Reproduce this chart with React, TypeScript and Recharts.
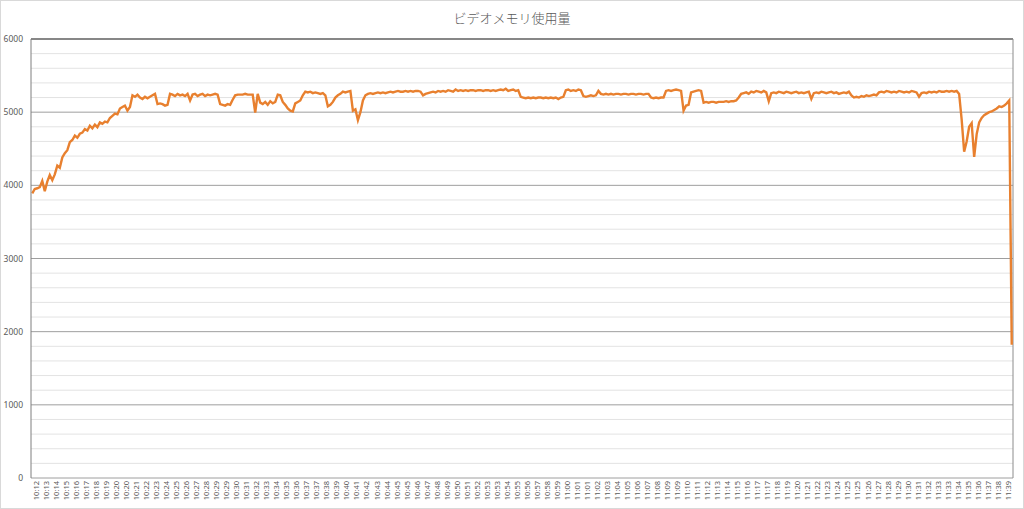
import React from "react";
import { LineChart, Line, XAxis, YAxis, CartesianGrid, ReferenceLine } from "recharts";

const title = "ビデオメモリ使用量";

const times = [
  "10:12","10:13","10:14","10:15","10:16","10:17","10:18","10:19","10:20","10:20",
  "10:21","10:22","10:23","10:24","10:25","10:26","10:27","10:28","10:29","10:29",
  "10:30","10:31","10:32","10:33","10:34","10:35","10:36","10:37","10:37","10:38",
  "10:39","10:40","10:41","10:42","10:43","10:44","10:45","10:45","10:46","10:47",
  "10:48","10:49","10:50","10:51","10:52","10:53","10:53","10:54","10:55","10:56",
  "10:57","10:58","10:59","11:00","11:01","11:01","11:02","11:03","11:04","11:05",
  "11:06","11:07","11:08","11:09","11:09","11:10","11:11","11:12","11:13","11:14",
  "11:15","11:16","11:17","11:17","11:18","11:19","11:20","11:21","11:22","11:23",
  "11:24","11:25","11:25","11:26","11:27","11:28","11:29","11:30","11:31","11:32",
  "11:33","11:33","11:34","11:35","11:36","11:37","11:38","11:39",
];

// four samples per time label
const memoryA = [
  3890, 3950, 3960, 3975, 4060, 3920, 4050, 4140, 4070, 4150, 4270, 4240,
  4380, 4440, 4480, 4590, 4620, 4680, 4650, 4705, 4720, 4770, 4750, 4815,
  4780, 4830, 4795, 4860, 4840, 4870, 4860, 4920, 4950, 4980, 4970, 5050,
  5070, 5090, 5020, 5070, 5230, 5210, 5240, 5200, 5180, 5210, 5190, 5210,
  5230, 5250, 5110, 5120, 5110, 5090, 5100, 5250, 5240, 5220, 5250, 5230,
  5240, 5220, 5250, 5160, 5240, 5250, 5220, 5240, 5250, 5220, 5240, 5230,
  5240, 5250, 5240, 5110, 5100, 5090, 5110, 5100, 5170, 5230, 5240, 5240,
  5240, 5250, 5240, 5240, 5240, 4995, 5250, 5130, 5110, 5140, 5100, 5150,
  5120, 5140, 5240, 5230,
];
const memoryB = [
  5140, 5100, 5050, 5020, 5010, 5120, 5140, 5160, 5230, 5280, 5270, 5280,
  5260, 5270, 5260, 5250, 5260, 5230, 5080, 5100, 5140, 5200, 5230, 5250,
  5280, 5270, 5280, 5290, 5020, 5040, 4890, 5000, 5160, 5230, 5250, 5260,
  5250, 5260, 5270, 5260, 5270, 5260, 5270, 5280, 5270, 5280, 5290, 5280,
  5280, 5290, 5280, 5290, 5280, 5290, 5290, 5280, 5230, 5250, 5260, 5270,
  5280, 5270, 5290, 5280, 5290, 5280, 5300, 5290, 5280, 5310, 5290, 5300,
  5290, 5300, 5290, 5300, 5300, 5290, 5300, 5300, 5290, 5300, 5300, 5290,
  5300, 5290, 5300, 5310, 5300, 5320, 5290, 5300, 5310, 5290, 5300, 5210,
];
const memoryC = [
  5200, 5190, 5200, 5190, 5200, 5190, 5200, 5200, 5190, 5200, 5190, 5200,
  5190, 5200, 5180, 5200, 5210, 5300, 5310, 5290, 5300, 5290, 5310, 5300,
  5220, 5210, 5220, 5230, 5220, 5230, 5290, 5250, 5240, 5250, 5240, 5250,
  5240, 5250, 5250, 5240, 5250, 5250, 5240, 5250, 5250, 5240, 5250, 5250,
  5240, 5250, 5250, 5200, 5190, 5200, 5190, 5200, 5200, 5290, 5300, 5290,
  5300, 5310, 5300, 5290, 5020, 5090, 5100, 5270, 5280, 5290, 5300, 5290,
  5130, 5140, 5130, 5140, 5140, 5130, 5140, 5140, 5140, 5150, 5140, 5150,
  5150, 5160, 5200, 5250, 5260, 5270, 5250, 5280, 5270, 5290, 5280, 5270,
];
const memoryD = [
  5290, 5270, 5150, 5260, 5270, 5260, 5280, 5270, 5260, 5280, 5270, 5260,
  5270, 5280, 5260, 5270, 5260, 5270, 5280, 5180, 5260, 5270, 5260, 5280,
  5270, 5260, 5270, 5280, 5260, 5270, 5250, 5260, 5270, 5260, 5280, 5230,
  5200, 5210, 5200, 5220, 5210, 5230, 5220, 5230, 5240, 5230, 5270, 5280,
  5270, 5290, 5280, 5270, 5280, 5270, 5290, 5280, 5270, 5280, 5270, 5290,
  5280, 5270, 5210, 5260, 5270, 5260, 5280, 5270, 5280, 5270, 5290, 5280,
  5280, 5290, 5280, 5290, 5280, 5290, 5250, 4900, 4460, 4600, 4800, 4850,
  4390, 4700, 4860, 4920, 4960, 4980, 5000, 5010, 5030, 5050, 5080, 5070,
  5090, 5120, 5160, 1820,
];

const memory = [...memoryA, ...memoryB, ...memoryC, ...memoryD];
const perLabel = 4;
const data = memory.map((v, i) => ({ i, v }));
const labelTicks = times.map((_, k) => k * perLabel + (perLabel - 1) / 2);
const yTicks = [
  0, 200, 400, 600, 800, 1000, 1200, 1400, 1600, 1800, 2000, 2200, 2400, 2600, 2800, 3000,
  3200, 3400, 3600, 3800, 4000, 4200, 4400, 4600, 4800, 5000, 5200, 5400, 5600, 5800, 6000,
];
const majorStep = 1000;
const yMax = 6000;
const xDomain = [-0.5, memory.length - 0.5];

const XTick = (props: any) => {
  const { x, y, payload } = props;
  const k = Math.round((payload.value - (perLabel - 1) / 2) / perLabel);
  return (
    <g transform={`translate(${x},${y})`}>
      <text
        transform="rotate(-90)"
        textAnchor="end"
        dy={2.8}
        fontSize={7.5}
        fill="#595959"
        fontFamily="'Noto Sans', 'DejaVu Sans', sans-serif"
      >
        {times[k]}
      </text>
    </g>
  );
};

const gridLine = (props: any) => {
  const { x1, y1, x2, y2, index } = props;
  const major = index % 5 === 0;
  return (
    <line
      key={`g-${index}`}
      x1={x1}
      y1={y1}
      x2={x2}
      y2={y2}
      stroke={major ? "#9e9e9e" : "#e3e3e3"}
      strokeWidth={1}
      fill="none"
    />
  );
};

export default function App() {
  return (
    <div
      style={{
        position: "absolute",
        left: 0,
        top: 0,
        width: 1024,
        height: 509,
        background: "#fff",
        boxSizing: "border-box",
        border: "1px solid #d9d9d9",
        fontFamily: "'Noto Sans', sans-serif",
      }}
    >
      <div
        style={{
          position: "absolute",
          left: 0,
          top: 8,
          width: 1022,
          textAlign: "center",
          fontSize: 13,
          lineHeight: "18px",
          color: "#595959",
          fontFamily: "'Noto Sans CJK JP', sans-serif",
          fontWeight: 300,
        }}
      >
        {title}
      </div>
      <div style={{ position: "absolute", left: -1, top: -1 }}>
        <LineChart
          width={1024}
          height={509}
          data={data}
          margin={{ top: 39, right: 11, bottom: 3, left: 0 }}
        >
          <CartesianGrid vertical={false} horizontal={gridLine} />
          <XAxis
            dataKey="i"
            type="number"
            domain={xDomain}
            ticks={labelTicks}
            interval={0}
            tick={<XTick />}
            tickLine={false}
            axisLine={false}
            tickSize={0}
            tickMargin={3}
            height={28}
          />
          <YAxis
            domain={[0, yMax]}
            ticks={yTicks}
            width={31}
            tickLine={false}
            axisLine={{ stroke: "#7f7f7f", strokeWidth: 1 }}
            tick={{ fontSize: 8.5, fill: "#595959" }}
            tickFormatter={(v: number) => (v % majorStep === 0 ? String(v) : "")}
            interval={0}
          />
          <ReferenceLine y={yMax} stroke="#6f6f6f" strokeWidth={1.5} />
          <ReferenceLine x={xDomain[1]} stroke="#8c8c8c" strokeWidth={1} />
          <Line
            type="linear"
            dataKey="v"
            stroke="#E8802F"
            strokeWidth={2.4}
            dot={false}
            isAnimationActive={false}
          />
        </LineChart>
      </div>
    </div>
  );
}
